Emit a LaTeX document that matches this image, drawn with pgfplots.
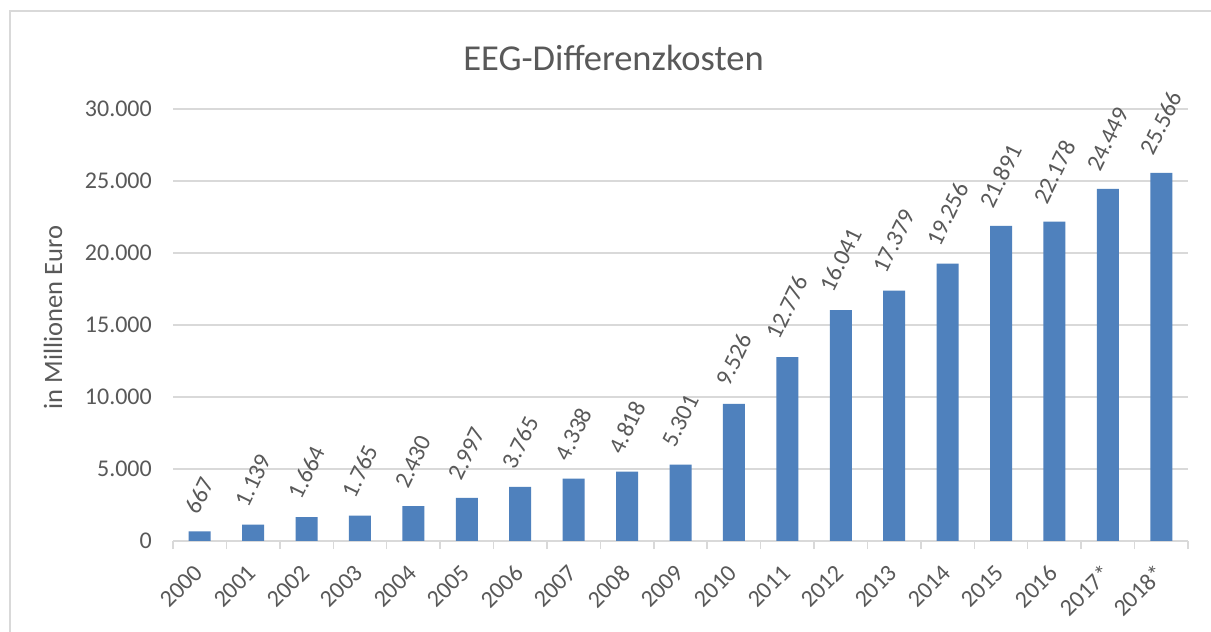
\documentclass[border=0pt]{standalone}
\usepackage{fontspec}
\setmainfont{Carlito}
\usepackage{graphicx}
\usepackage{pgfplots}
\pgfplotsset{compat=1.18}
\definecolor{textgray}{HTML}{595959}
\definecolor{gridgray}{HTML}{D9D9D9}
\definecolor{barblue}{HTML}{4F81BD}
\begin{document}
\begin{tikzpicture}
\useasboundingbox (0pt,0pt) rectangle (1211pt,632pt);
\fill[white] (0pt,0pt) rectangle (1211pt,632pt);
\draw[line width=2pt, color=gridgray] (10pt,-5pt) -- (10pt,621pt) -- (1220pt,621pt);
\node[font=\fontsize{36.5}{40}\selectfont, color=textgray] at (613.5pt,574pt) {EEG-Differenzkosten};
\node[font=\fontsize{26.5}{30}\selectfont, color=textgray, rotate=90] at (53pt,314.5pt) {in Millionen Euro};
\begin{axis}[
  at={(173pt,91pt)}, anchor=south west,
  scale only axis, width=1015pt, height=432pt,
  ybar, bar width=22pt,
  xmin=-0.5, xmax=18.5, ymin=0, ymax=30000,
  clip=false,
  axis line style={draw=none},
  ytick={0,5000,10000,15000,20000,25000,30000},
  scaled y ticks=false,
  ymajorgrids, grid style={color=gridgray, line width=1.5pt},
  ytick style={draw=none},
  xtick={0,...,18},
  xticklabels={2000,2001,2002,2003,2004,2005,2006,2007,2008,2009,2010,2011,2012,2013,2014,2015,2016,2017*,2018*},
  minor xtick={-0.5,0.5,...,18.5},
  xtick pos=left,
  major tick length=0pt, minor tick length=8pt,
  tick align=outside,
  xtick style={color=gridgray, line width=1.5pt},
  /pgf/number format/.cd, 1000 sep={.}, assume math mode=true,
  /pgfplots/.cd,
  yticklabel style={font=\fontsize{24}{28}\selectfont, color=textgray, anchor=east, inner sep=0pt, xshift=-21pt},
  xticklabel style={font=\fontsize{24}{28}\selectfont, color=textgray, inner sep=0pt, yshift=-28pt, xshift=-1pt, rotate=45, anchor=east},
  nodes near coords={\rotatebox{64}{\pgfmathprintnumber[1000 sep={.}, assume math mode=true]{\pgfplotspointmeta}}},
  every node near coord/.append style={anchor=south, inner sep=0pt, yshift=16pt, font=\fontsize{24}{28}\selectfont, color=textgray},
]
\addplot[fill=barblue, draw=none] coordinates {
(0,667) (1,1139) (2,1664) (3,1765) (4,2430) (5,2997) (6,3765) (7,4338) (8,4818) (9,5301)
(10,9526) (11,12776) (12,16041) (13,17379) (14,19256) (15,21891) (16,22178) (17,24449) (18,25566)
};
\end{axis}
\end{tikzpicture}
\end{document}
